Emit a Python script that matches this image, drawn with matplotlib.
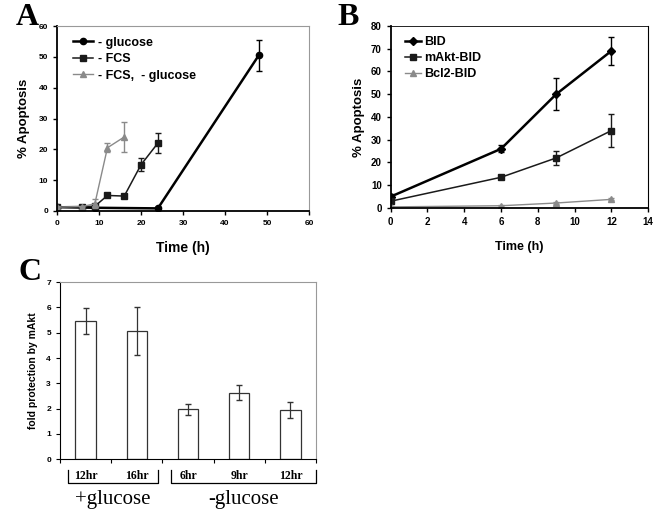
import matplotlib
matplotlib.use('Agg')
import matplotlib.pyplot as plt
import matplotlib.transforms as mtransforms

plt.rcParams['font.family'] = ['Liberation Sans', 'DejaVu Sans']
plt.rcParams['font.weight'] = 'bold'

# panel A: % apoptosis vs time
a_glc_t = [0, 9, 24, 48]
a_glc_y = [1.2, 1.0, 0.8, 50.5]
a_glc_err = [0.3, 0.3, 0.5, 5.0]

a_fcs_t = [0, 6, 9, 12, 16, 20, 24]
a_fcs_y = [1.3, 1.4, 1.5, 5.0, 4.8, 15.0, 22.0]
a_fcs_err = [0.3, 0.3, 0.4, 0.4, 0.4, 2.2, 3.2]

a_both_t = [0, 6, 9, 12, 16]
a_both_y = [1.2, 1.4, 2.3, 20.5, 24.0]
a_both_err = [0.3, 0.3, 1.5, 1.5, 4.8]

# panel B
b_t = [0, 6, 9, 12]
b_bid = [5.0, 26.0, 50.0, 69.0]
b_bid_err = [1.0, 1.5, 7.0, 6.0]
b_makt = [3.0, 13.5, 22.0, 34.0]
b_makt_err = [0.5, 0.8, 3.2, 7.2]
b_bcl2 = [0.5, 1.0, 2.2, 3.8]
b_bcl2_err = [0.2, 0.3, 0.4, 0.4]

# panel C
c_labels = ['12hr', '16hr', '6hr', '9hr', '12hr']
c_vals = [5.45, 5.08, 1.97, 2.62, 1.94]
c_err = [0.52, 0.95, 0.23, 0.30, 0.33]
c_groups = ['+glucose', '-glucose']

gray = '#8a8a8a'
fig = plt.figure(figsize=(6.6, 5.13), dpi=100)


def series(ax, x, y, err, label, color, lw, marker, ms, cap):
    # errorbars without legend entry, plain line+marker for the legend
    ax.errorbar(x, y, yerr=err, fmt='none', ecolor=color, elinewidth=1,
                capsize=cap)
    ax.plot(x, y, color=color, lw=lw, marker=marker, ms=ms, label=label)


# ---------- A ----------
axA = fig.add_axes([0.0864, 0.589, 0.382, 0.360])
series(axA, a_glc_t, a_glc_y, a_glc_err, '- glucose', 'black', 1.8, 'o', 4.5, 2)
series(axA, a_fcs_t, a_fcs_y, a_fcs_err, '- FCS', '#1a1a1a', 1.1, 's', 4.5, 2)
series(axA, a_both_t, a_both_y, a_both_err, '- FCS,  - glucose', gray, 1.0,
       '^', 4, 2)
axA.set_xlim(0, 60)
axA.set_ylim(0, 60)
axA.set_xticks(range(0, 61, 10))
axA.set_yticks(range(0, 61, 10))
axA.set_ylabel('% Apoptosis', fontsize=9.5, fontweight='bold', labelpad=6)
axA.set_xlabel('Time (h)', fontsize=10, fontweight='bold', labelpad=10)
for s in ['top', 'right']:
    axA.spines[s].set_color('#999999')
    axA.spines[s].set_linewidth(0.8)
for s in ['left', 'bottom']:
    axA.spines[s].set_linewidth(1.3)
axA.tick_params(labelsize=6, length=3, width=1)
axA.legend(loc='upper left', frameon=False, fontsize=9, handlelength=1.6,
           handletextpad=0.4, borderaxespad=0.3, labelspacing=0.35,
           bbox_to_anchor=(0.03, 0.99))

# ---------- B ----------
axB = fig.add_axes([0.592, 0.5945, 0.390, 0.355])
series(axB, b_t, b_bid, b_bid_err, 'BID', 'black', 1.8, 'D', 4.5, 2.5)
series(axB, b_t, b_makt, b_makt_err, 'mAkt-BID', '#1a1a1a', 1.1, 's', 5, 2.5)
series(axB, b_t, b_bcl2, b_bcl2_err, 'Bcl2-BID', gray, 1.0, '^', 5, 2)
axB.set_xlim(0, 14)
axB.set_ylim(0, 80)
axB.set_xticks(range(0, 15, 2))
axB.set_yticks(range(0, 81, 10))
axB.set_ylabel('% Apoptosis', fontsize=9.5, fontweight='bold', labelpad=4)
axB.set_xlabel('Time (h)', fontsize=9, fontweight='bold', labelpad=10)
axB.spines['top'].set_linewidth(0.6)
axB.spines['right'].set_linewidth(0.8)
for s in ['left', 'bottom']:
    axB.spines[s].set_linewidth(1.3)
axB.tick_params(labelsize=7, length=3, width=1)
axB.legend(loc='upper left', frameon=False, fontsize=9, handlelength=1.3,
           handletextpad=0.3, borderaxespad=0.3, labelspacing=0.3,
           bbox_to_anchor=(0.02, 0.99))

# ---------- C ----------
axC = fig.add_axes([0.0909, 0.105, 0.388, 0.345])
xs = list(range(len(c_vals)))
axC.bar(xs, c_vals, width=0.4, color='white', edgecolor='#333333', lw=0.9)
axC.errorbar(xs, c_vals, yerr=c_err, fmt='none', ecolor='#333333',
             elinewidth=0.9, capsize=2)
axC.set_xlim(-0.5, 4.5)
axC.set_ylim(0, 7)
axC.set_xticks([i - 0.5 for i in range(len(c_vals) + 1)])
axC.set_xticklabels([])
axC.set_yticks(range(0, 8))
axC.set_ylabel('fold protection by mAkt', fontsize=7.5, fontweight='bold',
               labelpad=6)
for s in ['top', 'right']:
    axC.spines[s].set_color('#999999')
    axC.spines[s].set_linewidth(0.8)
axC.tick_params(labelsize=6, length=3, width=0.8)

tr = mtransforms.blended_transform_factory(axC.transData, axC.transAxes)
for x, lab in zip(xs, c_labels):
    axC.text(x, -0.097, lab, transform=tr, ha='center', va='center',
             fontsize=8.5, fontweight='bold', family=['Liberation Serif'])
brackets = [(-0.35, 1.42), (1.66, 4.5)]
for (x0, x1), g in zip(brackets, c_groups):
    axC.plot([x0, x0, x1, x1], [-0.062, -0.136, -0.136, -0.062], color='black',
             lw=0.9, transform=tr, clip_on=False)
    axC.text((x0 + x1) / 2, -0.228, g, transform=tr, ha='center', va='center',
             fontsize=15, fontweight='normal', family=['Liberation Serif'])

# panel letters
for x, y, s in [(0.042, 0.965, 'A'), (0.528, 0.965, 'B'), (0.045, 0.468, 'C')]:
    fig.text(x, y, s, fontsize=23, fontweight='bold', ha='center', va='center',
             family=['Liberation Serif'])

fig.savefig('out.png', dpi=100)
